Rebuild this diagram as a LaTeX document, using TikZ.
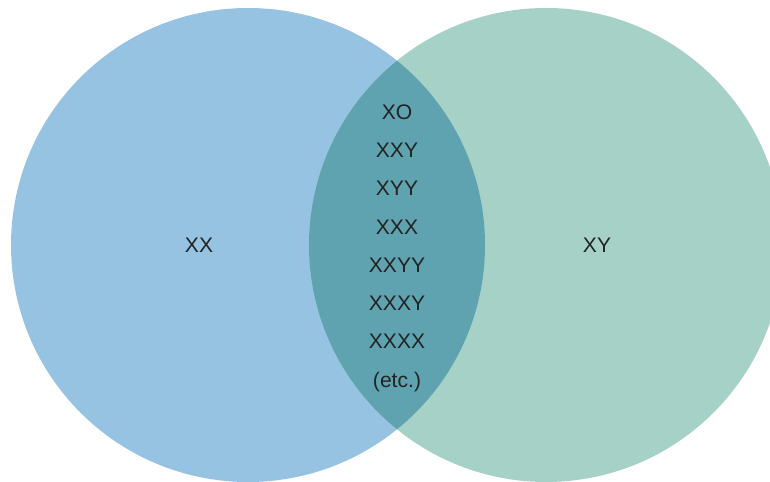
\documentclass[tikz,border=0pt]{standalone}
\usepackage{fontspec}
\setmainfont{Liberation Sans}
\usepackage{tikz}
\definecolor{XXColor}{RGB}{151,195,226}
\definecolor{XYColor}{RGB}{165,209,199}
\definecolor{BothColor}{RGB}{94,163,175}
\definecolor{TextColor}{RGB}{35,35,35}

\begin{document}
\begin{tikzpicture}[x=0.02cm,y=-0.02cm,
    setlabel/.style={font=\fontsize{12}{14}\selectfont,text=TextColor,anchor=base,inner sep=0pt}]
\useasboundingbox (0,0) rectangle (770,482);
\clip (0,0) rectangle (770,482);

\coordinate (xxc) at (248,245);
\coordinate (xyc) at (546,245);
\fill[XXColor] (xxc) circle (237);
\fill[XYColor] (xyc) circle (237);
\begin{scope}
    \clip (xxc) circle (237);
    \fill[BothColor] (xyc) circle (237);
\end{scope}

\node[setlabel] (xx) at (199,252.5) {XX};
\node[setlabel] (xy) at (597,252.5) {XY};

\foreach \i/\lab in {0/XO,1/XXY,2/XYY,3/XXX,4/XXYY,5/XXXY,6/XXXX,7/(etc.)}{
    \node[setlabel] (both\i) at (397,119.2+38.3*\i) {\lab};
}
\end{tikzpicture}
\end{document}
